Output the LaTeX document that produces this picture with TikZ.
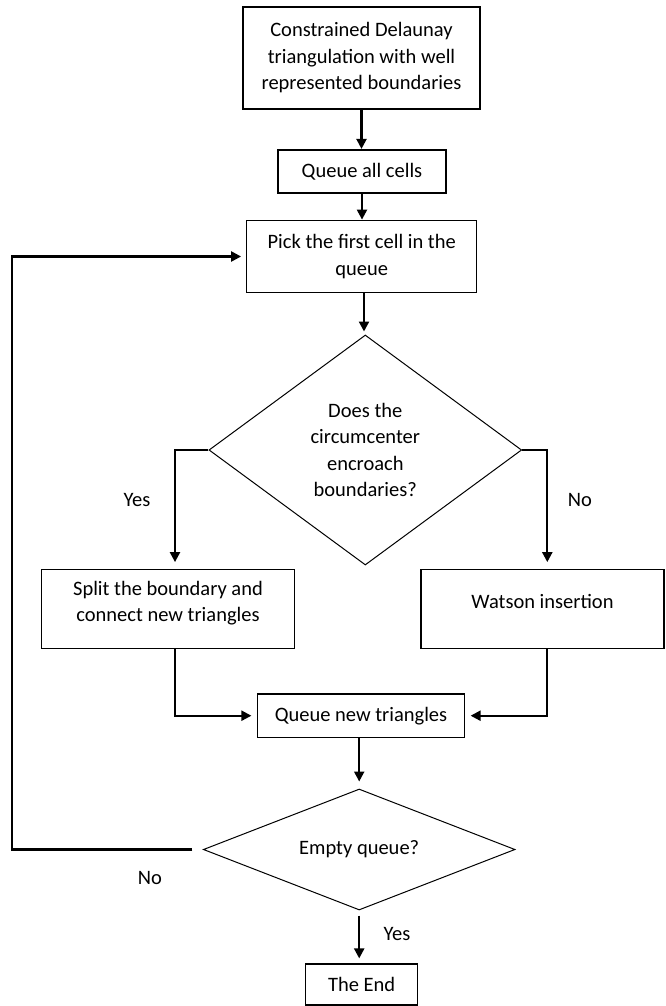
\documentclass[tikz,border=0pt]{standalone}
\usepackage{fontspec}
\setmainfont{Carlito}
\usetikzlibrary{arrows.meta,shapes.geometric}
\begin{document}
\begin{tikzpicture}[x=1pt,y=-1pt,
  txt/.style={font=\fontsize{20.5}{26.5}\selectfont},
  box/.style={txt,draw,line width=1.2pt,rectangle,inner sep=2pt,align=center},
  dia/.style={txt,draw,line width=1pt,diamond,inner sep=0pt,align=center},
  conn/.style={line width=2.2pt,-{Triangle[length=10pt,width=10pt]}},
  lbl/.style={txt}]
\useasboundingbox (0,0) rectangle (665,1006);
% nodes
\node[box,minimum width=237pt,minimum height=102pt] (b1) at (361.5,58)
  {Constrained Delaunay\\triangulation with well\\represented boundaries};
\node[box,minimum width=168pt,minimum height=43pt] (b2) at (362,171.5) {Queue all cells};
\node[box,minimum width=230pt,minimum height=71.6pt] (b3) at (361.7,256.5) {Pick the first cell in the\\queue};
\node[dia,minimum width=312.7pt,minimum height=230pt,aspect=1.36] (d1) at (365.3,450)
  {Does the\\circumcenter\\encroach\\boundaries?};
\node[box,minimum width=252.6pt,minimum height=79pt,text depth=15pt] (split) at (168,608.8)
  {Split the boundary and\\connect new triangles};
\node[box,minimum width=243pt,minimum height=79pt,text depth=14pt] (watson) at (542.5,608.8) {Watson insertion};
\node[box,minimum width=206.6pt,minimum height=43.3pt] (qnt) at (361,715.7) {Queue new triangles};
\node[dia,minimum width=311.7pt,minimum height=121pt,aspect=2.6] (d2) at (359.2,849.5) {Empty queue?};
\node[box,minimum width=112pt,minimum height=41pt] (end) at (361.7,984.5) {The End};
% labels
\node[lbl] (yes1) at (137,500) {Yes};
\node[lbl] (no1) at (580,500) {No};
\node[lbl] (no2) at (150,878) {No};
\node[lbl] (yes2) at (397,934) {Yes};
% helper columns
\coordinate (acol) at (364,0);
\coordinate (ycol) at (175,0);
\coordinate (ncol) at (547.3,0);
\coordinate (lcol) at (12.3,0);
% connectors
\draw[conn,shorten >=0.5pt] (b1.south) -- (b1.south |- b2.north);
\draw[conn,shorten >=0.5pt] (b2.south) -- (b2.south |- b3.north);
\draw[conn,shorten >=3pt] (b3.south -| acol) -- (d1.north -| acol);
\draw[conn,shorten >=6.6pt] (d1.west) -| (split.north -| ycol);
\draw[conn,shorten >=6.6pt] (d1.east) -| (watson.north -| ncol);
\draw[conn,shorten >=5.7pt] (split.south -| ycol) |- (qnt.west);
\draw[conn,shorten >=5.7pt] (watson.south -| ncol) |- (qnt.east);
\draw[conn,shorten >=7pt] (qnt.south -| d2.north) -- (d2.north);
\draw[conn,shorten <=10.6pt,shorten >=5pt] (d2.west) -| (lcol |- b3.west) -- (b3.west);
\draw[conn,shorten <=5pt,shorten >=5pt] (d2.south) -- (d2.south |- end.north);
\end{tikzpicture}
\end{document}
